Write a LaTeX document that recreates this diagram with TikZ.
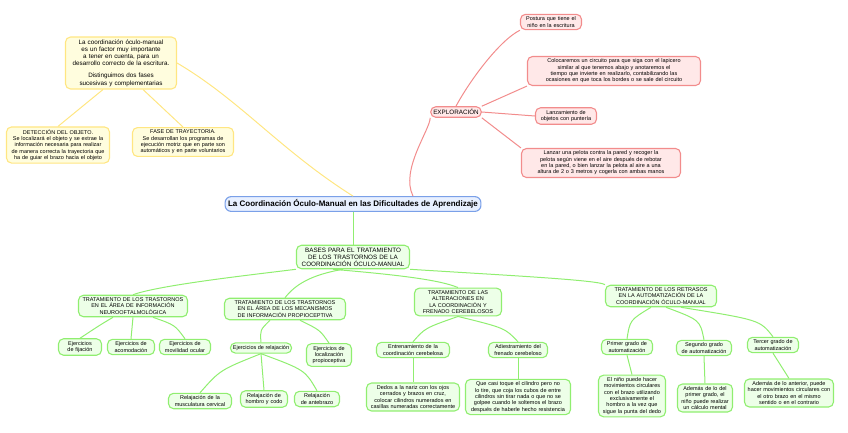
\documentclass[tikz,border=0pt]{standalone}
\usepackage{fontspec}
\setmainfont{Liberation Sans}
\hyphenpenalty=10000 \exhyphenpenalty=10000
\begin{document}
\begin{tikzpicture}[x=1pt,y=-1pt,
 box/.style={draw,rounded corners=5pt,line width=1.1pt,align=center,inner sep=2.5pt,font=\fontsize{5.5}{6.3}\selectfont},
 yb/.style={box,draw={rgb,255:red,255;green,230;blue,130},fill={rgb,255:red,255;green,253;blue,222}},
 rb/.style={box,draw={rgb,255:red,242;green,140;blue,140},fill={rgb,255:red,255;green,232;blue,232}},
 gb/.style={box,draw={rgb,255:red,144;green,238;blue,112},fill={rgb,255:red,237;green,255;blue,232}},
 yl/.style={draw={rgb,255:red,255;green,230;blue,130},line width=1pt},
 rl/.style={draw={rgb,255:red,242;green,140;blue,140},line width=1pt},
 gl/.style={draw={rgb,255:red,144;green,238;blue,112},line width=1pt}]
\useasboundingbox (0,0) rectangle (848,432);
% yellow
\node[yb,text width=106pt,font=\fontsize{6.3}{7.2}\selectfont] (intro) at (121,63) {La coordinación óculo-manual es un factor muy importante a tener en cuenta, para un desarrollo correcto de la escritura.\\[5pt]Distinguimos dos fases sucesivas y complementarias};
\node[yb,text width=98pt] (det) at (58,145) {DETECCIÓN DEL OBJETO.\\Se localizará el objeto y se extrae la información necesaria para realizar de manera correcta la trayectoria que ha de guiar el brazo hacia el objeto};
\node[yb,text width=96pt] (fase) at (183,142) {FASE DE TRAYECTORIA.\\Se desarrollan los programas de ejecución motriz que en parte son automáticos y en parte voluntarios};
% central
\node[draw={rgb,255:red,122;green,160;blue,232},fill={rgb,255:red,232;green,240;blue,255},line width=1.1pt,rounded corners=6pt,font=\bfseries\fontsize{8}{9}\selectfont,inner sep=3pt] (c) at (353,204) {La Coordinación Óculo-Manual en las Dificultades de Aprendizaje};
% red
\node[rb,font=\fontsize{6.3}{7}\selectfont] (exp) at (456,112) {EXPLORACIÓN};
\node[rb,text width=56pt] (p1) at (551,22) {Postura que tiene el niño en la escritura};
\node[rb,text width=168pt] (p2) at (614,71) {Colocaremos un circuito para que siga con el lapicero similar al que tenemos abajo y anotaremos el tiempo que invierte en realizarlo, contabilizando las ocasiones en que toca los bordes o se sale del circuito};
\node[rb,text width=56pt] (p3) at (566,116) {Lanzamiento de objetos con puntería};
\node[rb,text width=154pt] (p4) at (601,163) {Lanzar una pelota contra la pared y recoger la pelota según viene en el aire después de rebotar en la pared, o bien lanzar la pelota al aire a una altura de 2 o 3 metros y cogerla con ambas manos};
% green
\node[gb,text width=108pt,font=\fontsize{6.3}{7}\selectfont] (b) at (353,257) {BASES PARA EL TRATAMIENTO DE LOS TRASTORNOS DE LA COORDINACIÓN ÓCULO-MANUAL};
\node[gb,text width=104pt] (t1) at (133,306) {TRATAMIENTO DE LOS TRASTORNOS EN EL ÁREA DE INFORMACIÓN NEUROOFTALMOLÓGICA};
\node[gb,text width=116pt] (t2) at (285,309) {TRATAMIENTO DE LOS TRASTORNOS EN EL ÁREA DE LOS MECANISMOS DE INFORMACIÓN PROPIOCEPTIVA};
\node[gb,text width=82pt] (t3) at (458,302) {TRATAMIENTO DE LAS ALTERACIONES EN LA COORDINACIÓN Y FRENADO CEREBELOSOS};
\node[gb,text width=106pt] (t4) at (661,296) {TRATAMIENTO DE LOS RETRASOS EN LA AUTOMATIZACIÓN DE LA COORDINACIÓN ÓCULO-MANUAL};
\node[gb,text width=38pt] (f1) at (80,347) {Ejercicios de fijación};
\node[gb,text width=42pt] (f2) at (131,347) {Ejercicios de acomodación};
\node[gb,text width=46pt] (f3) at (185,347) {Ejercicios de movilidad ocular};
\node[gb] (r) at (261,348) {Ejercicios de relajación};
\node[gb,text width=40pt] (loc) at (329,355) {Ejercicios de localización propioceptiva};
\node[gb,text width=58pt] (r1) at (200,401) {Relajación de la musculatura cervical};
\node[gb,text width=42pt] (r2) at (264,399) {Relajación de hombro y codo};
\node[gb,text width=40pt] (r3) at (317,399) {Relajación de antebrazo};
\node[gb,text width=68pt] (e1) at (413,350) {Entrenamiento de la coordinación cerebelosa};
\node[gb,text width=54pt] (e2) at (518,350) {Adiestramiento del frenado cerebeloso};
\node[gb,text width=88pt] (d1) at (413,397) {Dedos a la nariz con los ojos cerrados y brazos en cruz, colocar cilindros numerados en casillas numeradas correctamente};
\node[gb,text width=100pt] (d2) at (518,397) {Que casi toque el cilindro pero no lo tire, que coja los cubos de entre cilindros sin tirar nada o que no se golpee cuando le soltemos el brazo después de haberle hecho resistencia};
\node[gb,text width=46pt] (a1) at (627,347) {Primer grado de automatización};
\node[gb,text width=50pt] (a2) at (704,348) {Segundo grado de automatización};
\node[gb,text width=46pt] (a3) at (773,345) {Tercer grado de automatización};
\node[gb,text width=62pt] (s1) at (632,396) {El niño puede hacer movimientos circulares con el brazo utilizando exclusivamente el hombro a la vez que sigue la punta del dedo};
\node[gb,text width=50pt] (s2) at (705,398) {Además de lo del primer grado, el niño puede realizar un cálculo mental};
\node[gb,text width=84pt] (s3) at (789,393) {Además de lo anterior, puede hacer movimientos circulares con el otro brazo en el mismo sentido o en el contrario};
% connectors
\draw[yl] (intro.east) .. controls (240,100) and (280,150) .. (c.north);
\draw[yl] (intro.south) ++(-18,0) coordinate (i1) (i1) -- (det.north);
\draw[yl] (intro.south) ++(22,0) coordinate (i2) (i2) -- (fase.north);
\draw[rl] (c.north) ++(60,0) coordinate (cr) (cr) .. controls (400,170) and (430,130) .. (exp.south west);
\draw[rl] (exp.north) .. controls (470,80) and (500,40) .. (p1.south west);
\draw[rl] (exp.north east) -- (p2.south west);
\draw[rl] (exp.east) -- (p3.west);
\draw[rl] (exp.south east) -- (p4.north west);
\draw[gl] (c.south) -- (b.north);
\draw[gl] (b.south west) .. controls (250,275) and (160,285) .. (t1.north);
\draw[gl] (b.south) ++(-10,0) coordinate (b1) (b1) .. controls (310,275) and (295,285) .. (t2.north);
\draw[gl] (b.south) ++(-20,0) coordinate (b2) (b2) .. controls (400,275) and (440,280) .. (t3.north);
\draw[gl] (b.south east) .. controls (500,275) and (600,280) .. (t4.north west);
\draw[gl] (t1.south) ++(-20,0) coordinate (x1) (x1) .. controls (100,325) .. (f1.north);
\draw[gl] (t1.south) -- (f2.north);
\draw[gl] (t1.south) ++(20,0) coordinate (x2) (x2) .. controls (175,325) .. (f3.north);
\draw[gl] (t2.south) ++(-15,0) coordinate (x3) (x3) .. controls (260,330) .. (r.north);
\draw[gl] (t2.south) ++(15,0) coordinate (x4) (x4) .. controls (320,330) .. (loc.north);
\draw[gl] (r.south) .. controls (220,370) .. (r1.north);
\draw[gl] (r.south) -- (r2.north);
\draw[gl] (r.south) .. controls (305,370) .. (r3.north);
\draw[gl] (t3.south) .. controls (425,328) .. (e1.north);
\draw[gl] (t3.south) .. controls (505,328) .. (e2.north);
\draw[gl] (e1.south) -- (d1.north);
\draw[gl] (e2.south) -- (d2.north);
\draw[gl] (t4.south) ++(-10,0) coordinate (x5) (x5) .. controls (630,320) .. (a1.north);
\draw[gl] (t4.south) ++(5,0) coordinate (x6) (x6) .. controls (700,320) .. (a2.north);
\draw[gl] (t4.south) ++(20,0) coordinate (x7) (x7) .. controls (760,320) .. (a3.north);
\draw[gl] (a1.south) -- (s1.north);
\draw[gl] (a2.south) -- (s2.north);
\draw[gl] (a3.south) -- (s3.north);
\end{tikzpicture}
\end{document}
